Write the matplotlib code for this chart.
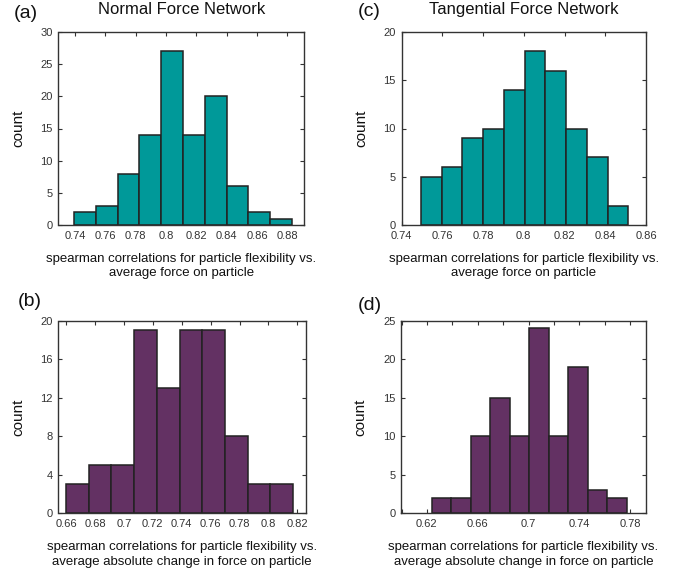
import numpy as np
import matplotlib
matplotlib.use("Agg")
import matplotlib.pyplot as plt
from matplotlib.ticker import FixedLocator, FixedFormatter

plt.rcParams['font.family'] = ['Liberation Sans', 'DejaVu Sans']

# ---- data ----
a_counts = [2, 3, 8, 14, 27, 14, 20, 6, 2, 1]
a_range = (0.7393, 0.8830)
c_counts = [5, 6, 9, 10, 14, 18, 16, 10, 7, 2]
c_range = (0.7495, 0.8513)
b_counts = [3, 5, 5, 19, 13, 19, 19, 8, 3, 3]
b_range = (0.6600, 0.8169)
d_counts = [2, 2, 10, 15, 10, 24, 10, 19, 3, 2]
d_range = (0.6237, 0.7773)

a_xticks = [0.74, 0.76, 0.78, 0.80, 0.82, 0.84, 0.86, 0.88]
a_xlabels = ['0.74', '0.76', '0.78', '0.8', '0.82', '0.84', '0.86', '0.88']
c_xticks = [0.74, 0.76, 0.78, 0.80, 0.82, 0.84, 0.86]
c_xlabels = ['0.74', '0.76', '0.78', '0.8', '0.82', '0.84', '0.86']
b_xticks = [0.66, 0.68, 0.70, 0.72, 0.74, 0.76, 0.78, 0.80, 0.82]
b_xlabels = ['0.66', '0.68', '0.7', '0.72', '0.74', '0.76', '0.78', '0.8', '0.82']
d_xticks = [0.60, 0.62, 0.64, 0.66, 0.68, 0.70, 0.72, 0.74, 0.76, 0.78]
d_xlabels = ['', '0.62', '', '0.66', '', '0.7', '', '0.74', '', '0.78']

a_yticks = [0, 5, 10, 15, 20, 25, 30]
c_yticks = [0, 5, 10, 15, 20]
b_yticks = [0, 4, 8, 12, 16, 20]
d_yticks = [0, 5, 10, 15, 20, 25]

xlabel_top = "spearman correlations for particle flexibility vs.\naverage force on particle"
xlabel_bot = "spearman correlations for particle flexibility vs.\naverage absolute change in force on particle"

TEAL = '#009999'
PURPLE = '#633163'
EDGE = '#222222'
AXC = '#333333'

W, H = 682, 575
fig = plt.figure(figsize=(W / 100, H / 100), dpi=100)


def make_ax(l, r, t, b):
    return fig.add_axes([l / W, 1 - b / H, (r - l) / W, (b - t) / H])


def draw(ax, counts, rng, color, xticks, xlabels, yticks, xlim, ylim, xlabel, title=None):
    edges = np.linspace(rng[0], rng[1], len(counts) + 1)
    ax.bar(edges[:-1], counts, width=np.diff(edges), align='edge',
           color=color, edgecolor=EDGE, linewidth=1.1, zorder=2)
    ax.set_xlim(*xlim)
    ax.set_ylim(*ylim)
    ax.xaxis.set_major_locator(FixedLocator(xticks))
    ax.xaxis.set_major_formatter(FixedFormatter(xlabels))
    ax.set_yticks(yticks)
    ax.tick_params(direction='in', length=3, width=0.8, colors=AXC,
                   labelsize=8, top=True, right=True, pad=4)
    ax.tick_params(axis='x', pad=4)
    for s in ax.spines.values():
        s.set_color(AXC)
        s.set_linewidth(1.0)
        s.set_zorder(3)
    ax.set_ylabel('count', fontsize=11, color='#111111', labelpad=11)
    ax.set_xlabel(xlabel, fontsize=9.5, color='#111111', linespacing=1.25, labelpad=9)
    if title:
        ax.set_title(title, fontsize=12, color='#111111', pad=13)


ax_a = make_ax(58.5, 304, 32, 225)
draw(ax_a, a_counts, a_range, TEAL, a_xticks, a_xlabels, a_yticks,
     (0.729, 0.891), (0, 30), xlabel_top, "Normal Force Network")

ax_c = make_ax(401.5, 646, 32, 225)
draw(ax_c, c_counts, c_range, TEAL, c_xticks, c_xlabels, c_yticks,
     (0.74, 0.86), (0, 20), xlabel_top, "Tangential Force Network")

ax_b = make_ax(58.5, 306, 320.7, 513.3)
draw(ax_b, b_counts, b_range, PURPLE, b_xticks, b_xlabels, b_yticks,
     (0.6547, 0.826), (0, 20), xlabel_bot)

ax_d = make_ax(401, 646, 320.7, 513.3)
draw(ax_d, d_counts, d_range, PURPLE, d_xticks, d_xlabels, d_yticks,
     (0.5996, 0.7925), (0, 25), xlabel_bot)

for lab, x, y in [("(a)", 26, 13), ("(c)", 369, 12), ("(b)", 30, 302), ("(d)", 370, 305)]:
    fig.text(x / W, 1 - y / H, lab, fontsize=14, color='#111111', ha='center', va='center')

fig.savefig("out.png", dpi=100)
